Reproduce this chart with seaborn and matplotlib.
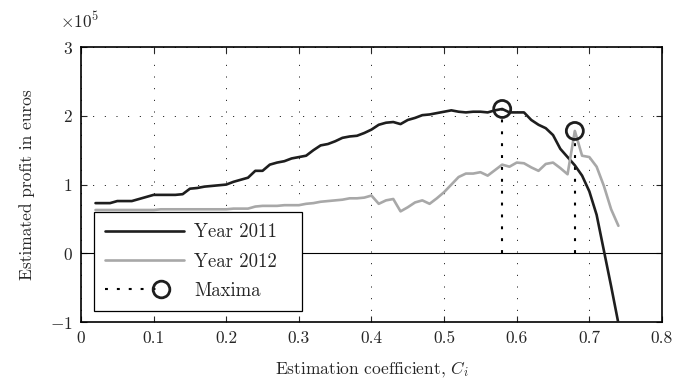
import numpy as np
import pandas as pd
import matplotlib
matplotlib.use("Agg")
import matplotlib.pyplot as plt
from matplotlib.lines import Line2D
from matplotlib.legend_handler import HandlerLine2D
from matplotlib.ticker import FuncFormatter
import seaborn as sns

# ---------------- data (profit in euros) ----------------
coef = [round(0.02 + 0.01 * i, 2) for i in range(73)]

profit_2011_e5 = [
    0.73, 0.73, 0.73, 0.76, 0.76, 0.76, 0.79, 0.82, 0.85, 0.85,   # 0.02-0.11
    0.85, 0.85, 0.86, 0.94, 0.95, 0.97, 0.98, 0.99, 1.00, 1.04,   # 0.12-0.21
    1.07, 1.10, 1.20, 1.20, 1.29, 1.32, 1.34, 1.38, 1.40, 1.42,   # 0.22-0.31
    1.50, 1.57, 1.59, 1.63, 1.68, 1.70, 1.71, 1.75, 1.80, 1.87,   # 0.32-0.41
    1.90, 1.91, 1.88, 1.94, 1.97, 2.01, 2.02, 2.04, 2.06, 2.08,   # 0.42-0.51
    2.06, 2.05, 2.06, 2.06, 2.05, 2.08, 2.10, 2.05, 2.05, 2.05,   # 0.52-0.61
    1.94, 1.87, 1.82, 1.72, 1.52, 1.40, 1.28, 1.13, 0.90, 0.56,   # 0.62-0.71
    0.04, -0.48, -1.02,                                           # 0.72-0.74
]
profit_2012_e5 = [
    0.63, 0.63, 0.63, 0.63, 0.63, 0.63, 0.63, 0.63, 0.63, 0.64,   # 0.02-0.11
    0.64, 0.64, 0.64, 0.64, 0.64, 0.64, 0.64, 0.64, 0.64, 0.65,   # 0.12-0.21
    0.65, 0.65, 0.68, 0.69, 0.69, 0.69, 0.70, 0.70, 0.70, 0.72,   # 0.22-0.31
    0.73, 0.75, 0.76, 0.77, 0.78, 0.80, 0.80, 0.81, 0.84, 0.72,   # 0.32-0.41
    0.77, 0.79, 0.61, 0.67, 0.74, 0.77, 0.72, 0.80, 0.89, 1.00,   # 0.42-0.51
    1.11, 1.16, 1.16, 1.18, 1.13, 1.21, 1.29, 1.26, 1.32, 1.31,   # 0.52-0.61
    1.25, 1.20, 1.30, 1.32, 1.24, 1.15, 1.78, 1.42, 1.40, 1.26,   # 0.62-0.71
    0.98, 0.64, 0.40,                                             # 0.72-0.74
]
profit_2011 = [v * 1e5 for v in profit_2011_e5]
profit_2012 = [v * 1e5 for v in profit_2012_e5]

series_labels = ["Year 2011", "Year 2012"]
maxima_label = "Maxima"
maxima_coef = [0.58, 0.68]
maxima_profit = [2.10e5, 1.78e5]

x_ticks = [0.0, 0.1, 0.2, 0.3, 0.4, 0.5, 0.6, 0.7, 0.8]
y_ticks = [-1e5, 0, 1e5, 2e5, 3e5]

# ---------------- style ----------------
sns.set_style("ticks")
plt.rcParams["font.family"] = ["serif"]
plt.rcParams["font.serif"] = ["cmr10", "DejaVu Serif"]
plt.rcParams["mathtext.fontset"] = "cm"
plt.rcParams["axes.formatter.use_mathtext"] = True
plt.rcParams["axes.unicode_minus"] = True

c2011 = "#1e1e1e"
c2012 = "#a8a8a8"
cmax = "#1e1e1e"
dot_style = (0, (1.4, 4.3))

df = pd.DataFrame({
    "coef": coef * 2,
    "profit": profit_2011 + profit_2012,
    "year": [series_labels[0]] * len(coef) + [series_labels[1]] * len(coef),
})

fig = plt.figure(figsize=(6.91, 3.80), dpi=100)
ax = fig.add_axes([0.1172, 0.1526, 0.8408, 0.7234])

ax.grid(True, color="black", lw=0.7, linestyle=(0, (1, 11)))
ax.set_axisbelow(True)
ax.axhline(0, color="black", lw=0.8, zorder=1)

sns.lineplot(data=df, x="coef", y="profit", hue="year",
             palette=[c2011, c2012], hue_order=series_labels,
             linewidth=1.9, legend=False, errorbar=None, ax=ax, zorder=3)

# maxima dotted verticals and circles
ax.vlines(maxima_coef, 0, maxima_profit, colors="black", lw=1.5,
          linestyles=[dot_style], zorder=2)
sns.scatterplot(x=maxima_coef, y=maxima_profit, marker="o", s=150,
                facecolor="none", edgecolor=cmax, linewidth=2.0, ax=ax, zorder=4)

ax.set_xlim(0, 0.8)
ax.set_ylim(-1e5, 3e5)
ax.set_xticks(x_ticks)
ax.set_yticks(y_ticks)
ax.xaxis.set_major_formatter(FuncFormatter(lambda v, p: "0" if abs(v) < 1e-9 else f"{v:g}"))
ax.ticklabel_format(axis="y", style="sci", scilimits=(0, 0))
ax.yaxis.get_offset_text().set_visible(False)
fig.text(60 / 691, 1 - 21 / 380, r"$\times10^{5}$", fontsize=12.5,
         ha="left", va="center")

ax.tick_params(direction="in", top=True, right=True, length=4, width=0.8,
               labelsize=12.5, pad=6)
for s in ax.spines.values():
    s.set_linewidth(1.2)
    s.set_color("black")

ax.set_xlabel("Estimation coefficient, $C_i$", fontsize=12.5, labelpad=10)
ax.set_ylabel("Estimated profit in euros", fontsize=12.5, labelpad=11)


class MaximaHandler(HandlerLine2D):
    def create_artists(self, legend, orig_handle, xdescent, ydescent,
                       width, height, fontsize, trans):
        arts = super().create_artists(legend, orig_handle, xdescent, ydescent,
                                      width, height, fontsize, trans)
        line = arts[0]
        x0 = -xdescent
        line.set_xdata([x0, x0 + 0.35 * width, x0 + 0.71 * width])
        line.set_markevery([2])
        return arts


handles = [
    Line2D([], [], color=c2011, lw=1.9),
    Line2D([], [], color=c2012, lw=1.9),
    Line2D([], [], color="black", lw=1.5, linestyle=dot_style,
           marker="o", markersize=12, markerfacecolor="none",
           markeredgecolor=cmax, markeredgewidth=2.0),
]
leg = ax.legend(handles, series_labels + [maxima_label], loc="lower left",
                bbox_to_anchor=(0.022, 0.04, 208 / 581, 0.3), mode="expand",
                borderaxespad=0,
                fontsize=13.5, frameon=True,
                fancybox=False, edgecolor="black", framealpha=1,
                handlelength=4.2, handletextpad=0.55, labelspacing=0.6,
                borderpad=0.6, numpoints=1,
                handler_map={handles[2]: MaximaHandler()})
leg.get_frame().set_linewidth(0.9)
leg.set_zorder(5)

fig.savefig("out.png", dpi=100)
